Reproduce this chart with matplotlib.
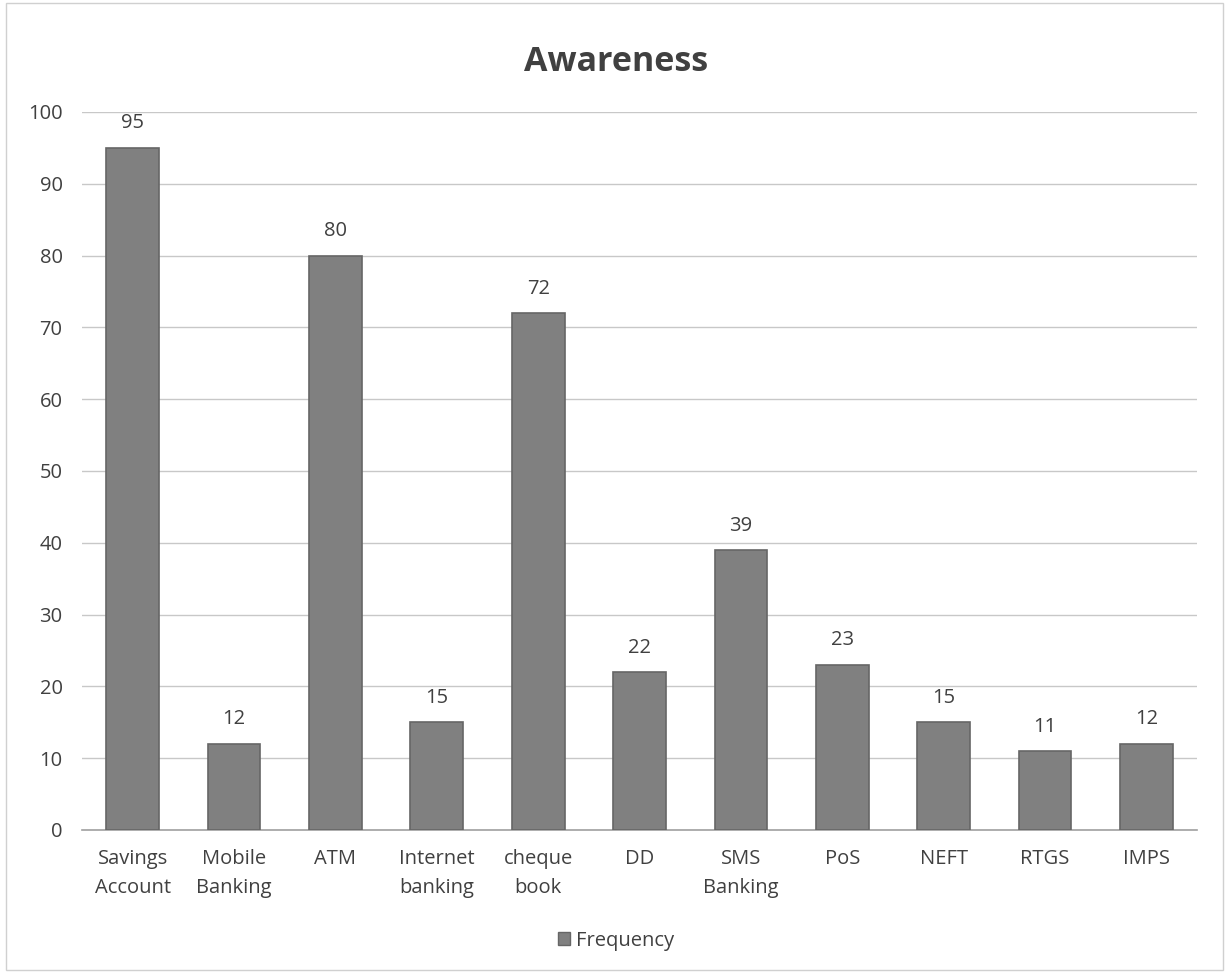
import matplotlib
matplotlib.use("Agg")
import matplotlib.pyplot as plt
from matplotlib.patches import Rectangle, Patch

categories = ["Savings\nAccount", "Mobile\nBanking", "ATM", "Internet\nbanking", "cheque\nbook",
              "DD", "SMS\nBanking", "PoS", "NEFT", "RTGS", "IMPS"]
frequency = [95, 12, 80, 15, 72, 22, 39, 23, 15, 11, 12]
yticks = [0, 10, 20, 30, 40, 50, 60, 70, 80, 90, 100]

plt.rcParams['font.family'] = ['Open Sans', 'DejaVu Sans']
txt = '#404040'
bar_color = '#808080'
fs = 14.5

fig = plt.figure(figsize=(12.32, 9.73), dpi=100)
ax = fig.add_axes([0.0666, 0.147, 0.905, 0.738])

x = list(range(len(categories)))
ax.bar(x, frequency, width=0.52, color=bar_color, edgecolor='#666666', linewidth=1.2, zorder=3,
       label='Frequency')
for xi, v in zip(x, frequency):
    ax.text(xi, v + 2.0, str(v), ha='center', va='bottom', fontsize=fs, color=txt)

ax.set_xlim(-0.5, len(categories) - 0.5)
ax.set_ylim(0, 100)
ax.set_yticks(yticks)
ax.set_yticklabels([str(t) for t in yticks], fontsize=fs, color=txt)
ax.set_xticks(x)
ax.set_xticklabels(categories, fontsize=fs, color=txt, linespacing=1.6)
ax.tick_params(axis='x', length=0, pad=14)
ax.tick_params(axis='y', length=0, pad=14)
ax.yaxis.grid(True, color='#c8c8c8', linewidth=1.0, zorder=0)
for s in ['top', 'right', 'left']:
    ax.spines[s].set_visible(False)
ax.spines['bottom'].set_color('#a0a0a0')
ax.spines['bottom'].set_linewidth(1.2)
ax.set_axisbelow(True)

fig.text(0.5, 0.936, 'Awareness', ha='center', va='center', fontsize=24.5, fontweight='bold', color=txt)

leg = fig.legend(handles=[Patch(facecolor=bar_color, edgecolor='#666666', label='Frequency')],
                 loc='center', bbox_to_anchor=(0.5, 0.033), frameon=False, fontsize=fs,
                 handlelength=0.6, handleheight=0.6, handletextpad=0.3)
for t in leg.get_texts():
    t.set_color(txt)

fig.patches.append(Rectangle((0.005, 0.003), 0.988, 0.994, transform=fig.transFigure,
                             fill=False, edgecolor='#d0d0d0', linewidth=1.0))

fig.savefig('out.png', dpi=100)
